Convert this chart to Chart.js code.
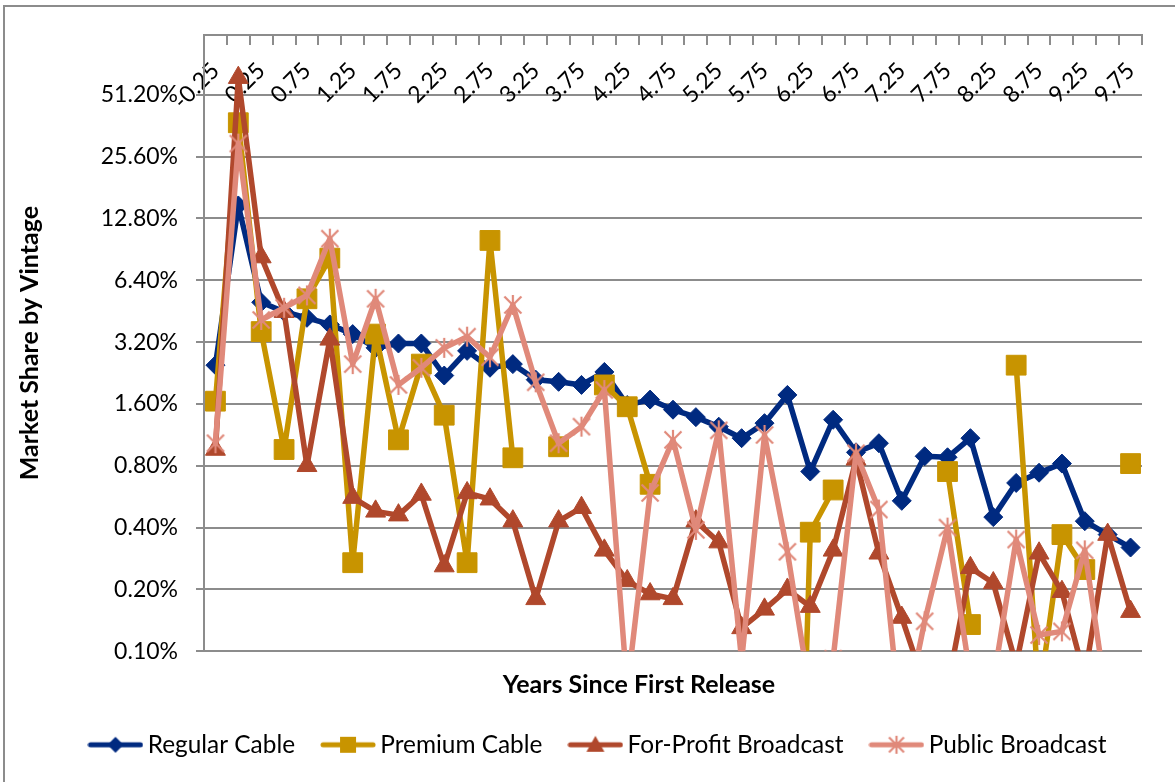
<!DOCTYPE html>
<html>
<head>
<meta charset="utf-8">
<script src="https://cdn.jsdelivr.net/npm/chart.js@4.4.1/dist/chart.umd.min.js"></script>
<style>
  html, body { margin: 0; padding: 0; background: #ffffff; width: 1175px; height: 782px; overflow: hidden; }
  #frame { position: absolute; left: 3px; top: 5px; width: 1300px; height: 900px;
           border-left: 2px solid #8c8c8c; border-top: 2px solid #8c8c8c; }
  #chart { position: absolute; left: 0; top: 0; }
</style>
</head>
<body>
<div id="frame"></div>
<canvas id="chart" width="1202" height="782"></canvas>
<script>
// Quarterly vintages, in years since first release
const years = ['-0.25', '0', '0.25', '0.5', '0.75', '1', '1.25', '1.5', '1.75', '2',
               '2.25', '2.5', '2.75', '3', '3.25', '3.5', '3.75', '4', '4.25', '4.5',
               '4.75', '5', '5.25', '5.5', '5.75', '6', '6.25', '6.5', '6.75', '7',
               '7.25', '7.5', '7.75', '8', '8.25', '8.5', '8.75', '9', '9.25', '9.5', '9.75'];

// Market share by vintage, in percent (null = no value for that quarter)
const regularCable = [2.47, 14.8, 5.0, 4.5, 4.2, 3.9, 3.5, 3.0, 3.15, 3.15,
                      2.2, 2.9, 2.4, 2.5, 2.1, 2.05, 1.98, 2.29, 1.58, 1.68,
                      1.5, 1.38, 1.24, 1.09, 1.29, 1.77, 0.75, 1.34, 0.93, 1.03,
                      0.54, 0.89, 0.88, 1.09, 0.45, 0.66, 0.74, 0.82, 0.43, 0.37, 0.32];

const premiumCable = [1.65, 37.4, 3.6, 0.96, 5.2, 8.2, 0.27, 3.5, 1.07, 2.5,
                      1.41, 0.27, 10.0, 0.875, null, 0.99, null, 1.98, 1.55, 0.65,
                      null, null, null, null, null, 0.0001, 0.38, 0.61, null, null,
                      null, null, 0.75, 0.135, null, 2.47, 0.06, 0.37, 0.25, null, 0.82];

const forProfitBroadcast = [0.96, 62, 8.3, 4.5, 0.8, 3.3, 0.56, 0.48, 0.46, 0.58,
                            0.26, 0.59, 0.55, 0.43, 0.18, 0.43, 0.5, 0.31, 0.22, 0.19,
                            0.18, 0.43, 0.34, 0.13, 0.16, 0.20, 0.165, 0.31, 0.86, 0.30,
                            0.146, 0.068, 0.067, 0.255, 0.215, 0.086, 0.30, 0.195, 0.075, 0.37, 0.156];

const publicBroadcast = [1.03, 29.6, 4.1, 4.7, 5.4, 10.2, 2.5, 5.2, 1.98, 2.4,
                         3.0, 3.4, 2.7, 4.85, 2.04, 1.03, 1.24, 1.87, 0.065, 0.59,
                         1.07, 0.39, 1.19, 0.09, 1.13, 0.305, 0.062, 0.092, 0.92, 0.49,
                         0.04, 0.14, 0.40, 0.075, 0.071, 0.35, 0.12, 0.125, 0.31, 0.054, null];

// Doubling gridlines on the share axis
const yTickValues = [0.1, 0.2, 0.4, 0.8, 1.6, 3.2, 6.4, 12.8, 25.6, 51.2];

const seriesNames = ['Regular Cable', 'Premium Cable', 'For-Profit Broadcast', 'Public Broadcast'];
const seriesColors = ['#002A80', '#C89400', '#B0482C', '#E0897A'];

const FONT = "Lato, 'Open Sans', 'DejaVu Sans', sans-serif";
const GRID = '#8c8c8c';
Chart.defaults.font.family = FONT;
Chart.defaults.color = '#000000';

// Six-armed asterisk marker
function makeStar(color, size) {
  const c = document.createElement('canvas');
  c.width = size; c.height = size;
  const g = c.getContext('2d');
  const m = size / 2, d = size / 2 - 2.5, v = size / 2 - 1;
  g.strokeStyle = color;
  g.lineWidth = 2.2;
  g.beginPath();
  g.moveTo(m - d, m - d); g.lineTo(m + d, m + d);
  g.moveTo(m + d, m - d); g.lineTo(m - d, m + d);
  g.moveTo(m, m - v); g.lineTo(m, m + v);
  g.stroke();
  return c;
}

// Legend key: a line segment with the series marker in the middle
function makeLegendIcon(color, kind) {
  const w = 56, h = 24;
  const c = document.createElement('canvas');
  c.width = w; c.height = h;
  const g = c.getContext('2d');
  const cx = w / 2, cy = h / 2;
  g.strokeStyle = color;
  g.lineWidth = 5;
  g.lineCap = 'round';
  g.beginPath(); g.moveTo(3, cy); g.lineTo(w - 3, cy); g.stroke();
  g.fillStyle = color;
  g.beginPath();
  if (kind === 'diamond') {
    g.moveTo(cx, cy - 8); g.lineTo(cx + 8, cy); g.lineTo(cx, cy + 8); g.lineTo(cx - 8, cy); g.closePath(); g.fill();
  } else if (kind === 'square') {
    g.rect(cx - 8, cy - 8, 16, 16); g.fill();
  } else if (kind === 'triangle') {
    g.moveTo(cx, cy - 9); g.lineTo(cx + 9, cy + 7); g.lineTo(cx - 9, cy + 7); g.closePath(); g.fill();
  } else {
    g.drawImage(makeStar(color, 20), cx - 10, cy - 10);
  }
  return c;
}

const legendIcons = [
  makeLegendIcon(seriesColors[0], 'diamond'),
  makeLegendIcon(seriesColors[1], 'square'),
  makeLegendIcon(seriesColors[2], 'triangle'),
  makeLegendIcon(seriesColors[3], 'star')
];

function lineSeries(i, values, pointStyle, radius, order) {
  return {
    label: seriesNames[i],
    data: values,
    borderColor: seriesColors[i],
    backgroundColor: seriesColors[i],
    pointBackgroundColor: seriesColors[i],
    pointBorderColor: seriesColors[i],
    borderWidth: 5.5,
    borderJoinStyle: 'round',
    borderCapStyle: 'round',
    pointStyle: pointStyle,
    pointRadius: radius,
    pointBorderWidth: 1,
    spanGaps: false,
    tension: 0,
    clip: 0,
    order: order
  };
}

// An empty, invisible axis: only reserves room in the layout
const spacerAxis = (extra) => Object.assign({
  display: true,
  grid: { display: false, drawTicks: false },
  border: { display: false },
  ticks: { display: false }
}, extra);

new Chart(document.getElementById('chart'), {
  type: 'line',
  data: {
    labels: years,
    datasets: [
      lineSeries(0, regularCable, 'rectRot', 9.5, 3),
      lineSeries(1, premiumCable, 'rect', 14, 2),
      lineSeries(2, forProfitBroadcast, 'triangle', 11.5, 1),
      lineSeries(3, publicBroadcast, makeStar(seriesColors[3], 22), 10, 0)
    ]
  },
  options: {
    responsive: false,
    animation: false,
    devicePixelRatio: 1,
    layout: { padding: { left: 0, top: 35, right: 0, bottom: 15 } },
    scales: {
      x: {
        type: 'category',
        position: { y: 100 },
        offset: true,
        grid: { offset: true, drawOnChartArea: false, drawTicks: true, tickLength: 9, color: GRID, lineWidth: 2 },
        border: { display: true, color: GRID, width: 2 },
        ticks: {
          autoSkip: false,
          minRotation: 45,
          maxRotation: 45,
          padding: 13,
          font: { size: 23 },
          callback: function (v, i) { return i % 2 === 0 ? this.getLabelForValue(v) : ''; }
        }
      },
      x2: spacerAxis({
        type: 'category',
        labels: years,
        position: 'bottom',
        stack: 'xTitle',
        stackWeight: 0.9275,
        title: {
          display: true,
          text: 'Years Since First Release',
          font: { size: 25, weight: 'bold' },
          padding: { top: 18.3, bottom: 0 }
        }
      }),
      x3: spacerAxis({
        type: 'category',
        labels: years,
        position: 'bottom',
        stack: 'xTitle',
        stackWeight: 0.0725
      }),
      y: {
        type: 'logarithmic',
        position: 'left',
        min: 0.1,
        max: 100,
        afterBuildTicks: (scale) => { scale.ticks = yTickValues.map(v => ({ value: v })); },
        afterFit: (scale) => { scale.width = 204; },
        grid: { color: GRID, lineWidth: 2, drawTicks: true, tickLength: 8 },
        border: { display: true, color: GRID, width: 2 },
        ticks: {
          padding: 18,
          font: { size: 23 },
          callback: (v) => Number(v).toFixed(2) + '%'
        },
        title: {
          display: true,
          text: 'Market Share by Vintage',
          font: { size: 25, weight: 'bold' },
          padding: { top: 15, bottom: 0 }
        }
      },
      yRight: spacerAxis({
        type: 'linear',
        position: 'right',
        afterFit: (scale) => { scale.width = 60; }
      })
    },
    plugins: {
      tooltip: { enabled: false },
      legend: {
        position: 'bottom',
        align: 'center',
        labels: {
          usePointStyle: true,
          pointStyleWidth: 40,
          padding: 33,
          font: { size: 24.4 },
          color: '#000000',
          sort: (a, b) => a.datasetIndex - b.datasetIndex,
          generateLabels: (chart) => {
            const items = Chart.defaults.plugins.legend.labels.generateLabels(chart);
            items.forEach(it => { it.pointStyle = legendIcons[it.datasetIndex]; });
            return items;
          }
        }
      }
    }
  }
});
</script>
</body>
</html>
